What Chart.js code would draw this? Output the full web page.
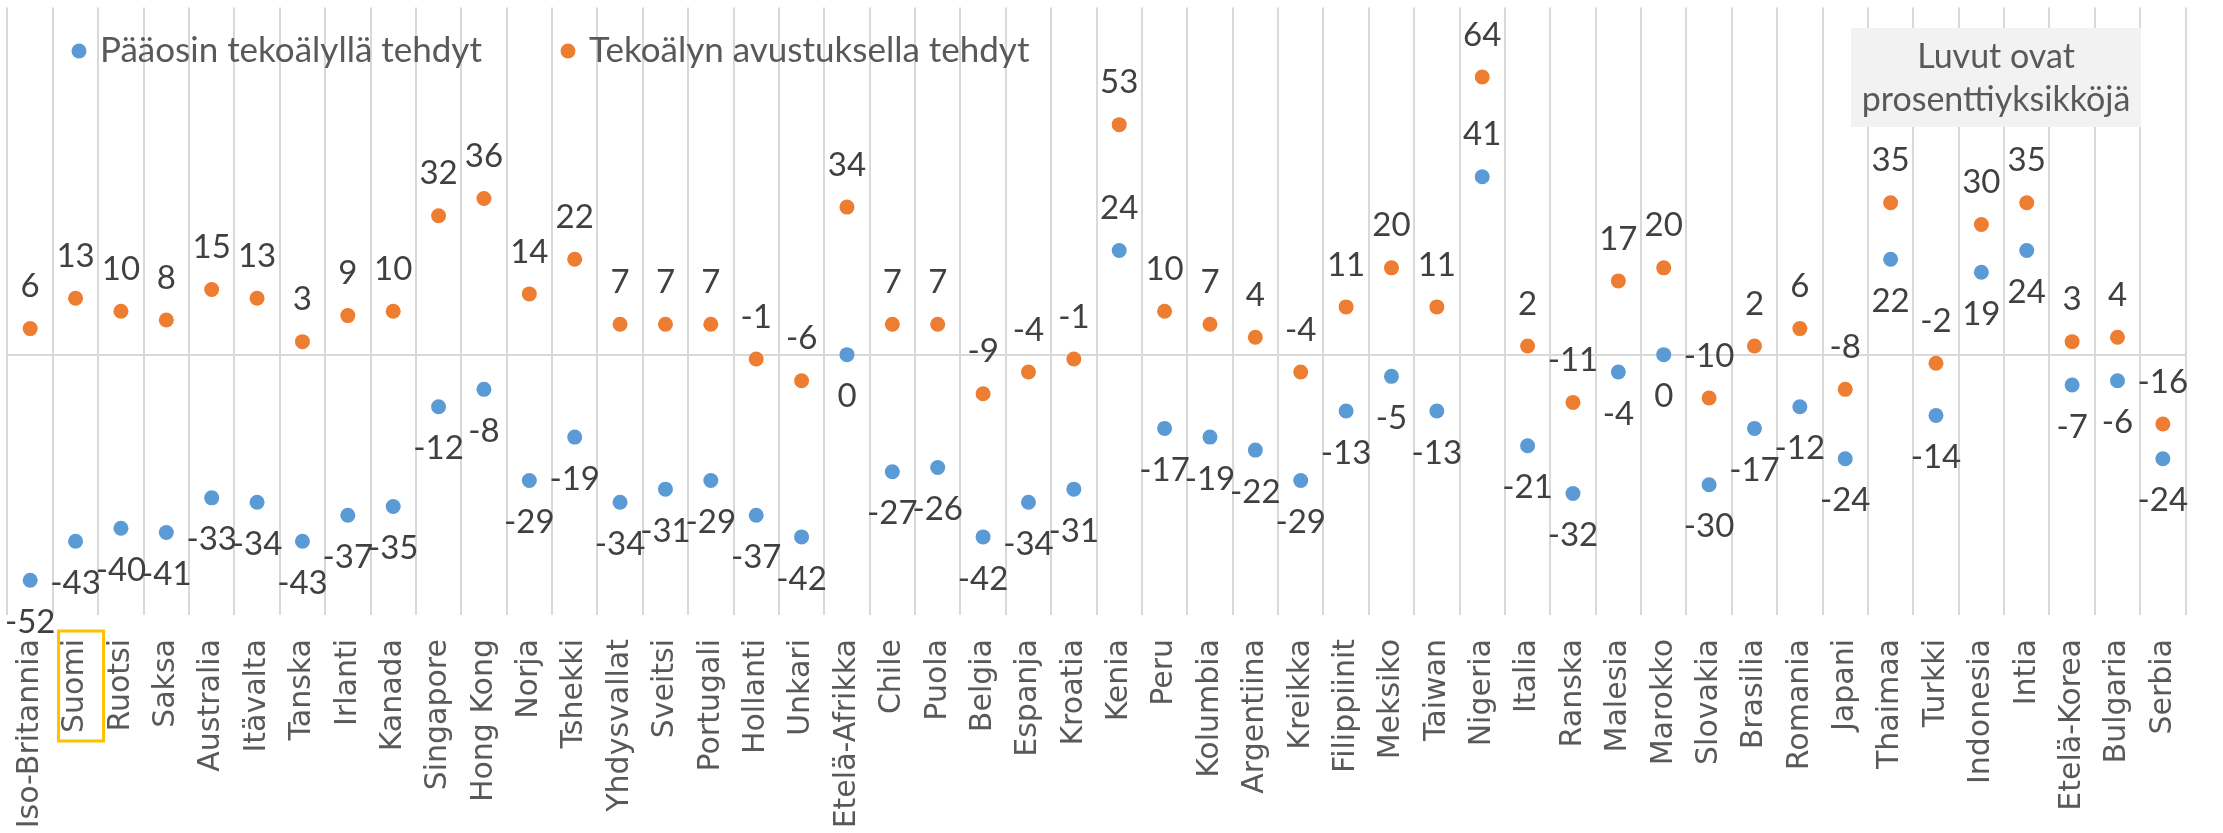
<!DOCTYPE html>
<html>
<head>
<meta charset="utf-8">
<script src="https://cdn.jsdelivr.net/npm/chart.js@4.4.1/dist/chart.umd.min.js"></script>
<style>
  html, body { margin: 0; padding: 0; background: #fff; }
  #wrap { width: 2223px; height: 833px; }
</style>
</head>
<body>
<div id="wrap"><canvas id="chart" width="2223" height="833"></canvas></div>
<script>
const countries = [
  "Iso-Britannia", "Suomi", "Ruotsi", "Saksa", "Australia", "Itävalta", "Tanska", "Irlanti",
  "Kanada", "Singapore", "Hong Kong", "Norja", "Tshekki", "Yhdysvallat", "Sveitsi", "Portugali",
  "Hollanti", "Unkari", "Etelä-Afrikka", "Chile", "Puola", "Belgia", "Espanja", "Kroatia",
  "Kenia", "Peru", "Kolumbia", "Argentiina", "Kreikka", "Filippiinit", "Meksiko", "Taiwan",
  "Nigeria", "Italia", "Ranska", "Malesia", "Marokko", "Slovakia", "Brasilia", "Romania",
  "Japani", "Thaimaa", "Turkki", "Indonesia", "Intia", "Etelä-Korea", "Bulgaria", "Serbia"
];

// Pääosin tekoälyllä tehdyt
const mainlyAI = [
  -52, -43, -40, -41, -33, -34, -43, -37,
  -35, -12, -8, -29, -19, -34, -31, -29,
  -37, -42, 0, -27, -26, -42, -34, -31,
  24, -17, -19, -22, -29, -13, -5, -13,
  41, -21, -32, -4, 0, -30, -17, -12,
  -24, 22, -14, 19, 24, -7, -6, -24
];

// Tekoälyn avustuksella tehdyt
const aiAssisted = [
  6, 13, 10, 8, 15, 13, 3, 9,
  10, 32, 36, 14, 22, 7, 7, 7,
  -1, -6, 34, 7, 7, -9, -4, -1,
  53, 10, 7, 4, -4, 11, 20, 11,
  64, 2, -11, 17, 20, -10, 2, 6,
  -8, 35, -2, 30, 35, 3, 4, -16
];

const seriesNames = ["Pääosin tekoälyllä tehdyt", "Tekoälyn avustuksella tehdyt"];
const noteLines = ["Luvut ovat", "prosenttiyksikköjä"];
const highlighted = "Suomi";
const blueLabelAbove = ["Kenia", "Nigeria"];

const BLUE = "#5B9BD5";
const ORANGE = "#ED7D31";
const GRID = "#d9d9d9";
const TEXT = "#595959";
const LABEL_FONT = "33px Lato";
const LEGEND_FONT = "35px Lato";
const NOTE_FONT = "34px Lato";
const TICK_FONT = { family: "DejaVu Sans", size: 30 };
const TICK_PAD = 24;

// data labels, legend, note box and the Suomi frame
const overlay = {
  id: "overlay",
  afterDatasetsDraw(chart) {
    const ctx = chart.ctx;
    ctx.save();
    ctx.font = LABEL_FONT;
    ctx.fillStyle = "#404040";
    ctx.textAlign = "center";
    ctx.textBaseline = "middle";
    chart.data.datasets.forEach((ds, i) => {
      chart.getDatasetMeta(i).data.forEach((pt, j) => {
        const up = i === 1 || blueLabelAbove.includes(countries[j]);
        ctx.fillText(String(ds.data[j]), pt.x, pt.y + (up ? -42 : 42));
      });
    });
    ctx.restore();
  },
  afterDraw(chart) {
    const ctx = chart.ctx;
    ctx.save();

    // legend
    const legendItems = [
      { x: 79, color: BLUE, text: seriesNames[0] },
      { x: 568, color: ORANGE, text: seriesNames[1] }
    ];
    ctx.font = LEGEND_FONT;
    ctx.textBaseline = "alphabetic";
    ctx.textAlign = "left";
    legendItems.forEach(it => {
      ctx.fillStyle = it.color;
      ctx.beginPath();
      ctx.arc(it.x, 51, 7.5, 0, Math.PI * 2);
      ctx.fill();
      ctx.fillStyle = TEXT;
      ctx.fillText(it.text, it.x + 21, 62);
    });

    // note box
    ctx.font = NOTE_FONT;
    ctx.fillStyle = "#f2f2f2";
    ctx.fillRect(1851, 28, 290, 99);
    ctx.fillStyle = TEXT;
    ctx.textAlign = "center";
    ctx.fillText(noteLines[0], 1996, 68);
    ctx.fillText(noteLines[1], 1996, 111);

    // frame round the highlighted label
    const xs = chart.scales.x;
    const idx = countries.indexOf(highlighted);
    const cx = xs.getPixelForTick(idx);
    ctx.font = TICK_FONT.size + "px " + TICK_FONT.family;
    const w = ctx.measureText(highlighted).width;
    const top = xs.top + TICK_PAD;
    ctx.strokeStyle = "#FFC000";
    ctx.lineWidth = 3;
    ctx.strokeRect(cx - 17, top - 8, 45, w + 16);

    ctx.restore();
  }
};

const pointStyle = color => ({
  showLine: false,
  backgroundColor: color,
  borderColor: color,
  pointRadius: 7.5,
  pointHoverRadius: 7.5,
  pointBorderWidth: 0
});

new Chart(document.getElementById("chart"), {
  type: "line",
  data: {
    labels: countries,
    datasets: [
      Object.assign({ label: seriesNames[0], data: mainlyAI }, pointStyle(BLUE)),
      Object.assign({ label: seriesNames[1], data: aiAssisted }, pointStyle(ORANGE))
    ]
  },
  options: {
    responsive: false,
    animation: false,
    devicePixelRatio: 1,
    layout: { padding: { left: 7, right: 13, top: 7, bottom: 0 } },
    plugins: {
      legend: { display: false },
      tooltip: { enabled: false }
    },
    scales: {
      x: {
        offset: true,
        grid: { offset: true, color: GRID, lineWidth: 2, drawTicks: false },
        border: { display: false },
        ticks: {
          autoSkip: false,
          minRotation: 90,
          maxRotation: 90,
          padding: TICK_PAD,
          color: TEXT,
          font: TICK_FONT
        },
        afterFit: s => { s.height = 218; }
      },
      y: {
        min: -60,
        max: 80,
        ticks: { display: false, stepSize: 20 },
        border: { display: false },
        grid: {
          drawTicks: false,
          lineWidth: 2,
          color: c => (c.tick && c.tick.value === 0 ? GRID : "rgba(0,0,0,0)")
        },
        afterFit: s => { s.width = 0; }
      }
    }
  },
  plugins: [overlay]
});
</script>
</body>
</html>
